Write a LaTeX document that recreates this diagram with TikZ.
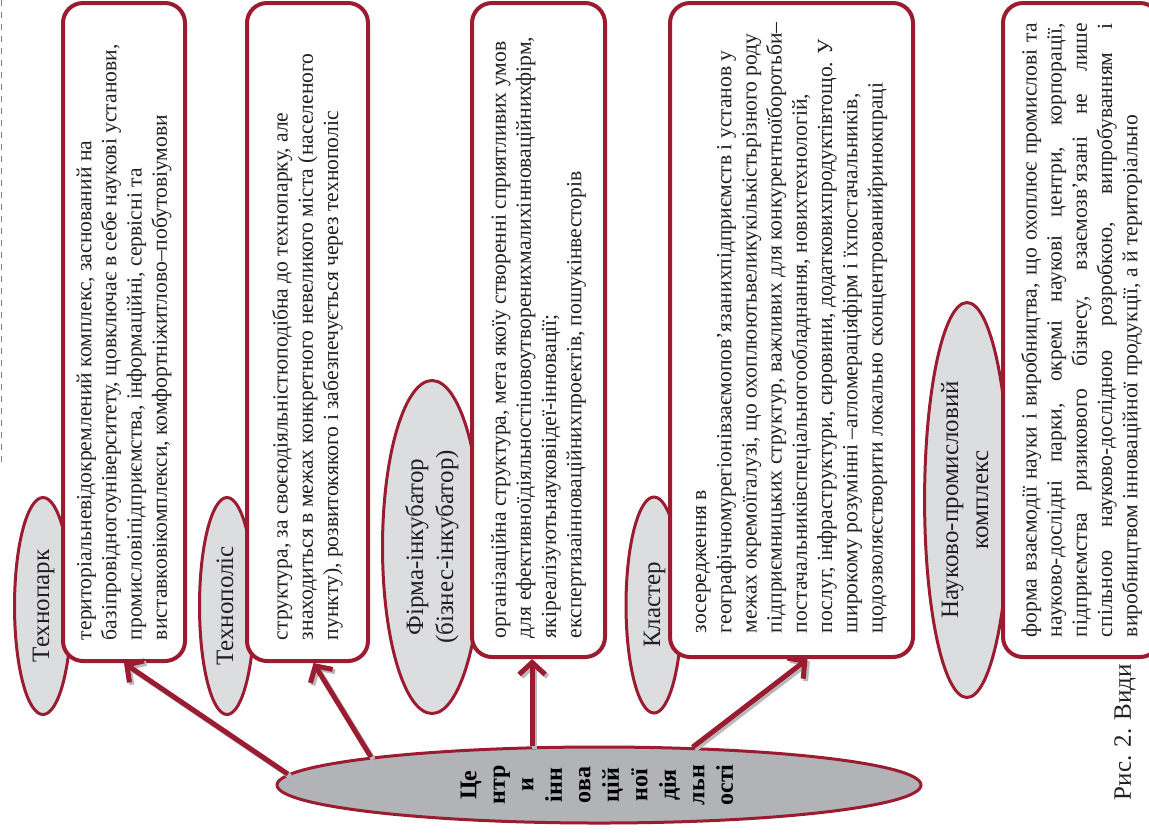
\documentclass[tikz,border=0pt]{standalone}
\usepackage{fontspec}
\setmainfont{Liberation Serif}
\usepackage{graphicx}
\usetikzlibrary{shapes.geometric,arrows.meta}

\definecolor{frame}{HTML}{9B1B30}
\definecolor{kindfill}{HTML}{DCDDDF}
\definecolor{hubfill}{HTML}{B2B3B7}
\definecolor{ink}{HTML}{231F20}

% rotated text: labels (centred lines) and box texts (fixed width)
\newcommand{\uptext}[1]{\rotatebox{90}{\begin{tabular}{@{}c@{}}#1\end{tabular}}}
\newcommand{\boxtext}[2]{\rotatebox{90}{\parbox{#1}{\hfuzz=20pt #2}}}

\begin{document}
\begin{tikzpicture}[x=0.5pt, y=-0.5pt,
    kind/.style={ellipse, draw=frame, line width=1.5pt, fill=kindfill, inner sep=0pt, text=ink, font=\fontsize{12.5}{15}\selectfont},
    descbox/.style={rectangle, rounded corners=10pt, draw=frame, line width=2pt, fill=white, inner sep=0pt, text=ink, font=\fontsize{10.8}{12.6}\selectfont},
    hub/.style={ellipse, draw=frame, line width=1.5pt, fill=hubfill, inner sep=0pt, font=\fontsize{12}{14.25}\selectfont\bfseries},
    link/.style={draw=frame, line width=2.5pt, -{Straight Barb[length=6pt,width=13pt]},
        preaction={draw=gray!55, line width=2.5pt, transform canvas={shift={(1.2pt,-1.2pt)}}}}]
    \useasboundingbox (0,0) rectangle (1149,832);
    \clip (0,0) rectangle (1149,832);

    % page edge
    \draw[gray, dashed, line width=0.4pt] (1,0) -- (1,465);

    % Kinds of centres
    \node[kind, minimum width=28.5pt, minimum height=108.5pt] (park) at (43,606) {\uptext{Технопарк}};
    \node[kind, minimum width=27.5pt, minimum height=108.5pt] (polis) at (227,606) {\uptext{Технополіс}};
    \node[kind, minimum width=49.5pt, minimum height=166.5pt] (incub) at (432,547) {\uptext{Фірма-інкубатор\\(бізнес-інкубатор)}};
    \node[kind, minimum width=28pt, minimum height=108pt] (cluster) at (654,605) {\uptext{Кластер}};
    \node[kind, minimum width=40.5pt, minimum height=197.5pt] (complex) at (967,500) {\uptext{Науково-промисловий\\комплекс}};

    % Descriptions
    \node[descbox, minimum width=61pt, minimum height=329pt] (parkbox) at (124,332)
        {\boxtext{308pt}{\raggedright територіальневідокремлений комплекс, заснований на\\
        базіпровідногоуніверситету, щовключає в себе наукові установи,\\
        промисловіпідприємства, інформаційні, сервісні та\\
        виставковікомплекси, комфортніжитлово–побутовіумови}};
    \node[descbox, minimum width=60.5pt, minimum height=329pt] (polisbox) at (307.5,332)
        {\boxtext{308pt}{\raggedright структура, за своєюдіяльністюподібна до технопарку, але\\
        знаходиться в межах конкретного невеликого міста (населеного\\
        пункту), розвитокякого і забезпечується через технополіс}};
    \node[descbox, minimum width=66.5pt, minimum height=327pt] (incubbox) at (538.5,330)
        {\boxtext{308pt}{\raggedright організаційна структура, мета якоїу створенні сприятливих умов\\
        для ефективноїдіяльностіновоутворенихмалихінноваційнихфірм,\\
        якіреалізуютьнауковіідеї-інновації;\\
        експертизаінноваційнихпроектів, пошукінвесторів}};
    \node[descbox, minimum width=121.5pt, minimum height=327pt] (clusterbox) at (791.5,330)
        {\boxtext{303pt}{\raggedright зосередження в\\
        \mbox{географічномурегіонівзаємопов’язанихпідприємств і установ у}\\
        \mbox{межах окремоїгалузі, що охоплюютьвеликукількістьрізного роду}\\
        \mbox{підприємницьких структур, важливих для конкурентноїборотьби–}\\
        \mbox{постачальниківспеціальногообладнання, новихтехнологій,}\\
        \mbox{послуг, інфраструктури, сировини, додатковихпродуктівтощо. У}\\
        \mbox{широкому розумінні –агломераціяфірм і їхпостачальників,}\\
        \mbox{щодозволяєстворити локально сконцентрованийринокпраці}}};
    \node[descbox, minimum width=78.5pt, minimum height=327pt] (complexbox) at (1081.5,330)
        {\boxtext{307pt}{форма взаємодії науки і виробництва, що охоплює промислові та\linebreak
        науково-дослідні парки, окремі наукові центри, корпорації,\linebreak
        підприємства ризикового бізнесу, взаємозв’язані не лише\linebreak
        спільною науково-дослідною розробкою, випробуванням і\linebreak
        виробництвом інноваційної продукції, а й територіально}};

    % Centre
    \node[hub, minimum width=322pt, minimum height=38pt] (hub) at (599,785)
        {\uptext{Це\\нтр\\и\\інн\\ова\\цій\\ної\\дія\\льн\\ості}};

    % Arrows
    \draw[link] (hub.178) -- (parkbox.south);
    \draw[link] (hub.173) -- ([xshift=3pt]polisbox.south);
    \draw[link] (hub.150) -- (hub.150 |- incubbox.south);
    \draw[link] (hub.22) -- ([xshift=8pt]clusterbox.south);

    % Caption
    \node[text=ink, font=\fontsize{12.5}{15}\selectfont] (caption) at (1125,732) {\rotatebox{90}{Рис. 2. Види}};
\end{tikzpicture}
\end{document}
